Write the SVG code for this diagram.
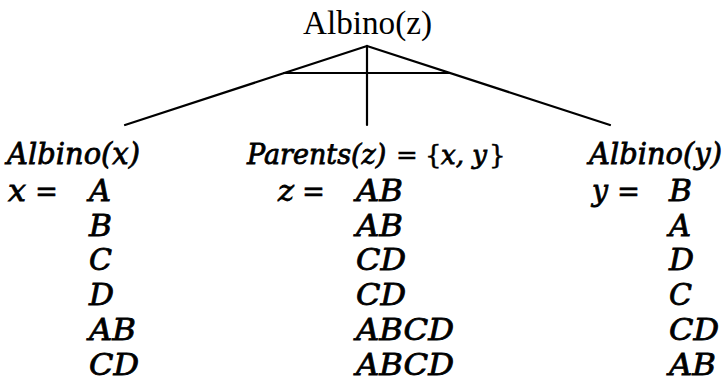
<svg xmlns="http://www.w3.org/2000/svg" width="726" height="392" viewBox="0 0 726 392">
<style>
.t{font-family:"Liberation Serif","Times New Roman",serif;font-size:33px;fill:#000}
.m{font-family:"DejaVu Serif","Liberation Serif",serif;font-size:30px;font-style:italic;fill:#000;stroke:#000;stroke-width:0.8}
.u{font-family:"DejaVu Serif","Liberation Serif",serif;font-size:30px;fill:#000;stroke:#000;stroke-width:0.5}
.h{font-size:27px}
.s{font-size:26px}
.c line{stroke:#000;stroke-width:2.2;stroke-linecap:round}
</style>
<rect width="726" height="392" fill="#fff"/>
<g id="root"><text class="t" x="303" y="34" textLength="129" lengthAdjust="spacingAndGlyphs">Albino(z)</text></g>
<g class="c" id="connectors">
<line x1="367" y1="46" x2="125" y2="125"/>
<line x1="367" y1="46" x2="610" y2="125"/>
<line x1="367" y1="46" x2="367" y2="125"/>
<line x1="284" y1="73" x2="450" y2="73"/>
</g>
<g id="left">
<text class="m" x="7" y="164" textLength="133" lengthAdjust="spacingAndGlyphs">Albino(x)</text>
<text class="m" x="8" y="201" textLength="18" lengthAdjust="spacingAndGlyphs">x</text><text class="u" x="35" y="201" textLength="23" lengthAdjust="spacingAndGlyphs">=</text>
<text class="m" x="89" y="201" textLength="22" lengthAdjust="spacingAndGlyphs">A</text>
<text class="m" x="89" y="236" textLength="23" lengthAdjust="spacingAndGlyphs">B</text>
<text class="m" x="89" y="270" textLength="23" lengthAdjust="spacingAndGlyphs">C</text>
<text class="m" x="89" y="305" textLength="25" lengthAdjust="spacingAndGlyphs">D</text>
<text class="m" x="89" y="340" textLength="47" lengthAdjust="spacingAndGlyphs">AB</text>
<text class="m" x="89" y="375" textLength="50" lengthAdjust="spacingAndGlyphs">CD</text>
</g>
<g id="middle">
<text class="m h" x="247" y="164">Parents(z)</text>
<text class="u s" x="396" y="164">=</text>
<text class="u s" x="425" y="164">{</text>
<text class="m s" x="441" y="164">x, y</text>
<text class="u s" x="489" y="164">}</text>
<text class="m" x="278" y="201" textLength="16" lengthAdjust="spacingAndGlyphs">z</text><text class="u" x="302" y="201" textLength="23" lengthAdjust="spacingAndGlyphs">=</text>
<text class="m" x="356" y="201" textLength="47" lengthAdjust="spacingAndGlyphs">AB</text>
<text class="m" x="356" y="236" textLength="47" lengthAdjust="spacingAndGlyphs">AB</text>
<text class="m" x="356" y="270" textLength="50" lengthAdjust="spacingAndGlyphs">CD</text>
<text class="m" x="356" y="305" textLength="50" lengthAdjust="spacingAndGlyphs">CD</text>
<text class="m" x="356" y="340" textLength="98" lengthAdjust="spacingAndGlyphs">ABCD</text>
<text class="m" x="356" y="375" textLength="98" lengthAdjust="spacingAndGlyphs">ABCD</text>
</g>
<g id="right">
<text class="m" x="589" y="164" textLength="133" lengthAdjust="spacingAndGlyphs">Albino(y)</text>
<text class="m" x="592" y="201" textLength="16" lengthAdjust="spacingAndGlyphs">y</text><text class="u" x="617" y="201" textLength="23" lengthAdjust="spacingAndGlyphs">=</text>
<text class="m" x="669" y="201" textLength="23" lengthAdjust="spacingAndGlyphs">B</text>
<text class="m" x="669" y="236" textLength="22" lengthAdjust="spacingAndGlyphs">A</text>
<text class="m" x="669" y="270" textLength="25" lengthAdjust="spacingAndGlyphs">D</text>
<text class="m" x="669" y="305" textLength="23" lengthAdjust="spacingAndGlyphs">C</text>
<text class="m" x="669" y="340" textLength="50" lengthAdjust="spacingAndGlyphs">CD</text>
<text class="m" x="669" y="375" textLength="47" lengthAdjust="spacingAndGlyphs">AB</text>
</g>
</svg>
